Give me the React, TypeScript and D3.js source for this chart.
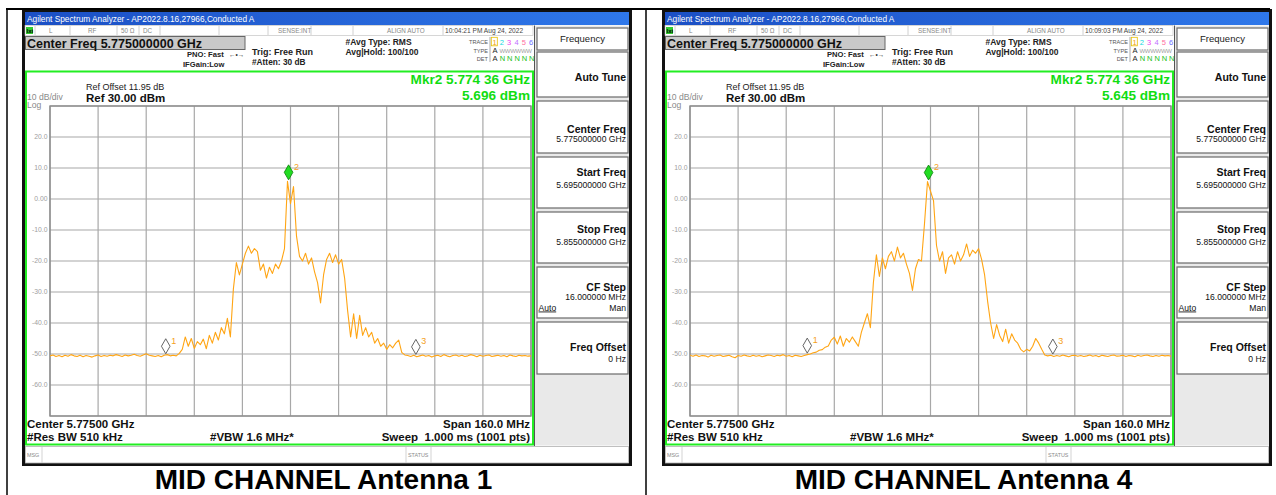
import React from "react";
import * as d3 from "d3";

// ---------------- data ----------------
const FREQ_START_GHZ = 5.695;
const FREQ_STOP_GHZ = 5.855;
const FREQ_STEP_GHZ = 0.001;
const REF_LEVEL_DBM = 30;
const BOTTOM_LEVEL_DBM = -70;
const X_DIVS = [5.695, 5.711, 5.727, 5.743, 5.759, 5.775, 5.791, 5.807, 5.823, 5.839, 5.855];
const Y_DIVS = [30, 20, 10, 0, -10, -20, -30, -40, -50, -60, -70];
const Y_TICKS = [20, 10, 0, -10, -20, -30, -40, -50, -60];
const Y_TICK_LABELS = ["20.0", "10.0", "0.00", "-10.0", "-20.0", "-30.0", "-40.0", "-50.0", "-60.0"];

// trace values (dBm), one per 1 MHz from 5.695 GHz
const TRACE_ANT1 = [
  -50.6, -50.3, -50.8, -50.5, -50.9, -50.4, -50.7, -50.2, -50.6, -50.8,
  -50.4, -50.9, -50.5, -50.7, -51.0, -50.6, -50.3, -50.8, -50.5, -50.7,
  -50.4, -50.6, -50.2, -50.5, -50.8, -50.3, -50.6, -50.4, -50.1, -50.5,
  -50.7, -50.3, -49.9, -50.4, -50.6, -50.8, -50.5, -50.9, -50.4, -50.2,
  -50.6, -50.4, -50.6, -49.8, -48.5, -44.5, -47.5, -45.0, -48.2, -46.0,
  -47.0, -45.2, -48.3, -44.0, -46.5, -43.0, -45.5, -41.5, -43.5, -38.5,
  -44.5, -29.0, -20.5, -24.5, -21.0, -17.5, -15.2, -17.5, -16.0, -17.0,
  -23.0, -21.0, -25.5, -22.0, -24.0, -21.0, -22.5, -20.0, -16.0, 5.7,
  -1.5, 4.0, -12.0, -18.5, -20.0, -17.5, -21.0, -19.0, -23.5, -27.0,
  -33.5, -24.5, -19.5, -17.5, -20.5, -18.0, -21.0, -19.5, -25.5, -36.0,
  -44.5, -37.0, -45.0, -37.5, -44.0, -41.5, -44.5, -43.0, -46.5, -45.0,
  -47.5, -46.5, -48.5, -47.0, -48.0, -46.5, -45.5, -49.5, -50.3, -50.5,
  -50.8, -50.4, -50.9, -50.6, -50.3, -50.7, -50.5, -51.0, -50.6, -50.4,
  -50.8, -50.2, -50.6, -50.9, -50.5, -50.3, -50.7, -50.4, -50.8, -50.6,
  -50.2, -50.5, -50.9, -50.4, -50.7, -50.5, -50.3, -50.8, -50.6, -50.4,
  -50.7, -50.5, -50.9, -50.3, -50.6, -50.8, -50.4, -50.6, -50.5, -50.7,
  -50.6,
];

const TRACE_ANT4 = [
  -50.4, -50.7, -50.3, -50.8, -50.5, -50.6, -51.0, -50.4, -50.7, -50.5,
  -50.3, -50.8, -50.6, -50.4, -50.9, -51.2, -50.5, -50.7, -50.3, -50.6,
  -50.8, -50.4, -50.7, -50.5, -50.9, -50.6, -50.3, -50.5, -50.8, -50.4,
  -50.6, -50.2, -50.7, -50.5, -50.9, -50.4, -50.6, -50.8, -50.5, -50.2,
  -50.0, -49.6, -49.4, -48.8, -48.6, -47.8, -47.4, -45.5, -44.6, -46.8,
  -44.2, -47.5, -45.0, -46.2, -44.5, -46.0, -47.5, -43.0, -40.0, -37.0,
  -41.5, -27.0, -18.0, -25.0, -19.0, -22.5, -18.5, -17.0, -20.0, -15.5,
  -19.0, -17.5, -21.0, -24.0, -29.5, -22.5, -19.5, -20.0, -8.0, 5.6,
  2.5, -0.5, -15.0, -20.0, -17.0, -24.0, -19.0, -18.0, -21.0, -17.0,
  -20.0, -18.0, -14.5, -18.5, -16.5, -17.5, -16.0, -19.5, -24.5, -33.0,
  -40.0, -45.0, -40.5, -44.0, -46.0, -42.0, -46.5, -43.5, -45.5, -46.5,
  -48.5, -49.3, -48.5, -49.0, -47.5, -45.0, -46.5, -48.5, -50.3, -50.6,
  -50.4, -50.8, -50.5, -50.7, -50.3, -50.6, -50.9, -50.5, -50.4, -50.7,
  -50.5, -50.8, -50.6, -50.3, -50.7, -50.5, -50.9, -50.4, -50.6, -50.8,
  -50.5, -50.3, -50.7, -50.6, -50.4, -50.8, -50.5, -50.6, -50.9, -50.4,
  -50.7, -50.5, -50.3, -50.6, -50.8, -50.5, -50.7, -50.4, -50.6, -50.5,
  -50.7,
];

const MARKER_IDS = ["1", "2", "3"];
const MARKERS_ANT1_GHZ = [5.7335, 5.77436, 5.8167];
const MARKERS_ANT1_DBM = [-50.4, 5.696, -50.6];
const MARKERS_ANT4_GHZ = [5.734, 5.77436, 5.8157];
const MARKERS_ANT4_DBM = [-50.2, 5.645, -50.5];

const SOFTKEY_TITLES = ["Auto Tune", "Center Freq", "Start Freq", "Stop Freq", "CF Step", "Freq Offset"];
const SOFTKEY_VALUES = ["", "5.775000000 GHz", "5.695000000 GHz", "5.855000000 GHz", "16.000000 MHz", "0 Hz"];

const F = "'Liberation Sans', Arial, Helvetica, sans-serif";

// ---------------- layout (left panel; right panel is shifted) ----------------
const GX0 = 50, GX1 = 531, GY0 = 106, GY1 = 416;
const BTN_BOX = [
  [52, 97], [101, 153], [157, 208], [212, 263], [267, 318], [322, 374],
];
const BTN_TITLE_Y = [80.5, 133, 175.5, 233, 290.5, 350.5];
const BTN_VALUE_Y = [0, 141.5, 187.5, 245, 300, 361.5];

type PanelProps = {
  dx: number;
  trace: number[];
  mkF: number[];
  mkA: number[];
  time: string;
  mkrFreq: string;
  mkrAmp: string;
  caption: string;
  id: string;
};

function Panel({ dx, trace, mkF, mkA, time, mkrFreq, mkrAmp, caption, id }: PanelProps) {
  const x = d3.scaleLinear().domain([FREQ_START_GHZ, FREQ_STOP_GHZ]).range([GX0, GX1]);
  const y = d3.scaleLinear().domain([BOTTOM_LEVEL_DBM, REF_LEVEL_DBM]).range([GY1, GY0]);
  const line = d3
    .line<number>()
    .x((_d, i) => x(FREQ_START_GHZ + i * FREQ_STEP_GHZ))
    .y((d) => y(d));

  const statusSeps = [35, 70, 117, 139, 160, 219, 268, 311, 353, 443];
  const traceColors = ["#f0a020", "#10d8e0", "#f040f0", "#c070ff", "#ff70a0", "#7070ff"];

  return (
    <g transform={`translate(${dx},0)`} fontFamily={F}>
      <defs>
        <linearGradient id={`tb${id}`} x1="0" x2="1" y1="0" y2="0">
          <stop offset="0" stopColor="#1b4fc4" />
          <stop offset="1" stopColor="#2f78ea" />
        </linearGradient>
        <clipPath id={`clip${id}`}>
          <rect x={GX0} y={GY0 - 30} width={GX1 - GX0} height={GY1 - GY0 + 30} />
        </clipPath>
      </defs>
      {/* screenshot frame */}
      <rect x={22} y={9} width={610} height={457} fill="#111" />
      <rect x={25} y={12} width={604} height={451} fill="#ffffff" />
      {/* title bar */}
      <rect x={25} y={12} width={604} height={13} fill={`url(#tb${id})`} />
      <text x={27} y={21.5} fontSize={8.3} fill="#ffffff">
        Agilent Spectrum Analyzer - AP2022.8.16,27966,Conducted A
      </text>
      {/* status row */}
      <rect x={25} y={25.5} width={508} height={10} fill="#ffffff" stroke="#bbbbbb" strokeWidth={0.6} />
      {statusSeps.map((s) => (
        <line key={s} x1={s} x2={s} y1={26} y2={35} stroke="#c4c4c4" strokeWidth={0.8} />
      ))}
      <rect x={26} y={27} width={7} height={7} fill="#33cc33" />
      <text x={26.5} y={33} fontSize={6} fill="#000" fontWeight="bold">lxi</text>
      <g fontSize={6.3} fill="#888">
        <text x={49} y={33.2}>L</text>
        <text x={88} y={33.2}>RF</text>
        <text x={121} y={33.2}>50 Ω</text>
        <text x={143} y={33.2}>DC</text>
        <text x={278} y={33.2}>SENSE:INT</text>
        <text x={387} y={33.2}>ALIGN AUTO</text>
      </g>
      <text x={445} y={33.2} fontSize={6.6} fill="#444">{time}</text>
      {/* center freq box */}
      <rect x={25.5} y={36.5} width={219.5} height={13} fill="#c9c9c9" stroke="#666" strokeWidth={1} />
      <text x={27} y={47.5} fontSize={12.5} fontWeight="bold" fill="#111">Center Freq 5.775000000 GHz</text>
      <text x={187} y={57} fontSize={7.6} fill="#222" fontWeight="bold">PNO: Fast</text>
      <text x={229} y={57} fontSize={6.5} fill="#333">←•→</text>
      <text x={183} y={66.5} fontSize={7.6} fill="#222" fontWeight="bold">IFGain:Low</text>
      <text x={252} y={54.5} fontSize={9} fontWeight="bold" fill="#222">Trig: Free Run</text>
      <text x={252} y={64.5} fontSize={8.3} fontWeight="bold" fill="#222">#Atten: 30 dB</text>
      <text x={345.5} y={44.5} fontSize={8.5} fontWeight="bold" fill="#222">#Avg Type: RMS</text>
      <text x={345.5} y={54.5} fontSize={8.5} fontWeight="bold" fill="#222">Avg|Hold: 100/100</text>
      {/* trace block */}
      <g fontSize={5.6} fill="#555" textAnchor="end">
        <text x={488} y={44}>TRACE</text>
        <text x={488} y={52.5}>TYPE</text>
        <text x={488} y={60.5}>DET</text>
      </g>
      <line x1={490} x2={490} y1={37} y2={62} stroke="#888" strokeWidth={0.7} />
      <rect x={491.3} y={37.3} width={6} height={8.5} fill="none" stroke="#e8c000" strokeWidth={0.8} />
      {traceColors.map((c, k) => (
        <text key={k} x={492.5 + k * 7.3} y={44.5} fontSize={7.5} fill={c}>{k + 1}</text>
      ))}
      <text x={492.5} y={53} fontSize={7.5} fill="#222">A</text>
      <text x={499.5} y={52.5} fontSize={6} fill="#a0a0a0" letterSpacing={-0.3}>WWWWWW</text>
      <text x={492.5} y={61} fontSize={7.5} fill="#222">A</text>
      {[0, 1, 2, 3, 4].map((k) => (
        <text key={k} x={499.8 + k * 7.3} y={61} fontSize={7.5} fill="#22c022">N</text>
      ))}
      {/* green frame */}
      <rect x={26} y={71.5} width={507} height={373} fill="none" stroke="#22ee22" strokeWidth={2} />
      <text x={530} y={84} fontSize={13.6} fontWeight="bold" fill="#11dd11" textAnchor="end">{mkrFreq}</text>
      <text x={530} y={99.5} fontSize={13.6} fontWeight="bold" fill="#11dd11" textAnchor="end">{mkrAmp}</text>
      <text x={86} y={89.5} fontSize={9} fill="#222">Ref Offset 11.95 dB</text>
      <text x={86} y={101.5} fontSize={11.5} fontWeight="bold" fill="#111">Ref 30.00 dBm</text>
      <text x={27} y={100} fontSize={8.6} fill="#8a8a8a">10 dB/div</text>
      <text x={27} y={108.2} fontSize={8.6} fill="#8a8a8a">Log</text>
      {/* graticule */}
      {X_DIVS.map((f) => (
        <line key={f} x1={x(f)} x2={x(f)} y1={GY0} y2={GY1} stroke="#a8a8a8" strokeWidth={1.2} />
      ))}
      {Y_DIVS.map((v) => (
        <line key={v} x1={GX0} x2={GX1} y1={y(v)} y2={y(v)} stroke="#a8a8a8" strokeWidth={1.2} />
      ))}
      <rect x={GX0} y={GY0} width={GX1 - GX0} height={GY1 - GY0} fill="none" stroke="#8c8c8c" strokeWidth={1.4} />
      {Y_TICKS.map((v, k) => (
        <text key={v} x={47.5} y={y(v) + 2.4} fontSize={6.8} fill="#a0a0a0" textAnchor="end">
          {Y_TICK_LABELS[k]}
        </text>
      ))}
      {/* trace */}
      <path d={line(trace) || ""} fill="none" stroke="#ffa514" strokeWidth={1.1} strokeLinejoin="round" clipPath={`url(#clip${id})`} />
      {/* markers */}
      {mkF.map((f, k) => {
        const cx = x(f);
        const tip = y(mkA[k]) - 1.5;
        const d = `M${cx},${tip} L${cx + 4.3},${tip - 7.5} L${cx},${tip - 15} L${cx - 4.3},${tip - 7.5} Z`;
        const active = k === 1;
        return (
          <g key={k}>
            <path d={d} fill={active ? "#22dd22" : "#ffffff"} stroke={active ? "#118811" : "#555"} strokeWidth={0.9} />
            <text x={cx + 5.5} y={tip - 10} fontSize={9} fill="#f5a020">{MARKER_IDS[k]}</text>
          </g>
        );
      })}
      {/* bottom annotation */}
      <g fontSize={11.5} fontWeight="bold" fill="#111">
        <text x={27} y={427.5}>Center 5.77500 GHz</text>
        <text x={530} y={427.5} textAnchor="end">Span 160.0 MHz</text>
        <text x={27} y={440.5}>#Res BW 510 kHz</text>
        <text x={210} y={440.5}>#VBW 1.6 MHz*</text>
        <text x={530} y={440.5} textAnchor="end" xmlSpace="preserve">Sweep  1.000 ms (1001 pts)</text>
      </g>
      {/* softkey panel */}
      <rect x={534} y={25.5} width={95} height={420} fill="#e9e9e9" />
      <line x1={534.5} x2={534.5} y1={25.5} y2={446} stroke="#555" strokeWidth={1} />
      <rect x={537} y={28} width={91} height={22} fill="#ffffff" stroke="#6a6a6a" strokeWidth={1.2} />
      <text x={582.5} y={41.5} fontSize={9.5} fill="#222" textAnchor="middle">Frequency</text>
      {SOFTKEY_TITLES.map((t, k) => (
        <g key={t}>
          <rect x={537} y={BTN_BOX[k][0]} width={91} height={BTN_BOX[k][1] - BTN_BOX[k][0]} fill="#ffffff" stroke="#6a6a6a" strokeWidth={1.2} />
          <text x={626} y={BTN_TITLE_Y[k]} fontSize={10.5} fontWeight="bold" fill="#111" textAnchor="end">{t}</text>
          {SOFTKEY_VALUES[k] && (
            <text x={626} y={BTN_VALUE_Y[k]} fontSize={8.6} fill="#111" textAnchor="end">{SOFTKEY_VALUES[k]}</text>
          )}
        </g>
      ))}
      <text x={538.5} y={310.5} fontSize={8.6} fill="#111" textDecoration="underline">Auto</text>
      <text x={626} y={310.5} fontSize={8.6} fill="#111" textAnchor="end">Man</text>
      {/* msg bar */}
      <rect x={25.5} y={446.5} width={603} height={16.5} fill="#ffffff" stroke="#b0b0b0" strokeWidth={0.8} />
      <line x1={42} x2={42} y1={447} y2={463} stroke="#c8c8c8" strokeWidth={0.8} />
      <line x1={406} x2={406} y1={447} y2={463} stroke="#c8c8c8" strokeWidth={0.8} />
      <line x1={431} x2={431} y1={447} y2={463} stroke="#c8c8c8" strokeWidth={0.8} />
      <text x={27} y={457} fontSize={5.4} fill="#8a8a8a">MSG</text>
      <text x={408} y={457} fontSize={5.4} fill="#8a8a8a">STATUS</text>
      {/* caption */}
      <text x={323.5} y={489} fontSize={28} fontWeight="bold" fill="#000" textAnchor="middle">{caption}</text>
    </g>
  );
}

export default function App() {
  return (
    <svg
      width={1276}
      height={495}
      viewBox="0 0 1276 495"
      style={{ position: "absolute", left: 0, top: 0, background: "#ffffff" }}
    >
      <rect x={0} y={0} width={1276} height={495} fill="#ffffff" />
      <Panel
        id="a"
        dx={0}
        trace={TRACE_ANT1}
        mkF={MARKERS_ANT1_GHZ}
        mkA={MARKERS_ANT1_DBM}
        time="10:04:21 PM Aug 24, 2022"
        mkrFreq="Mkr2 5.774 36 GHz"
        mkrAmp="5.696 dBm"
        caption="MID CHANNEL Antenna 1"
      />
      <Panel
        id="b"
        dx={640}
        trace={TRACE_ANT4}
        mkF={MARKERS_ANT4_GHZ}
        mkA={MARKERS_ANT4_DBM}
        time="10:09:03 PM Aug 24, 2022"
        mkrFreq="Mkr2 5.774 36 GHz"
        mkrAmp="5.645 dBm"
        caption="MID CHANNEL Antenna 4"
      />
      {/* table borders */}
      <line x1={6} x2={1270} y1={9} y2={9} stroke="#000" strokeWidth={2} />
      <line x1={7} x2={7} y1={8} y2={495} stroke="#000" strokeWidth={1.5} />
      <line x1={646} x2={646} y1={8} y2={495} stroke="#000" strokeWidth={1.5} />
    </svg>
  );
}
